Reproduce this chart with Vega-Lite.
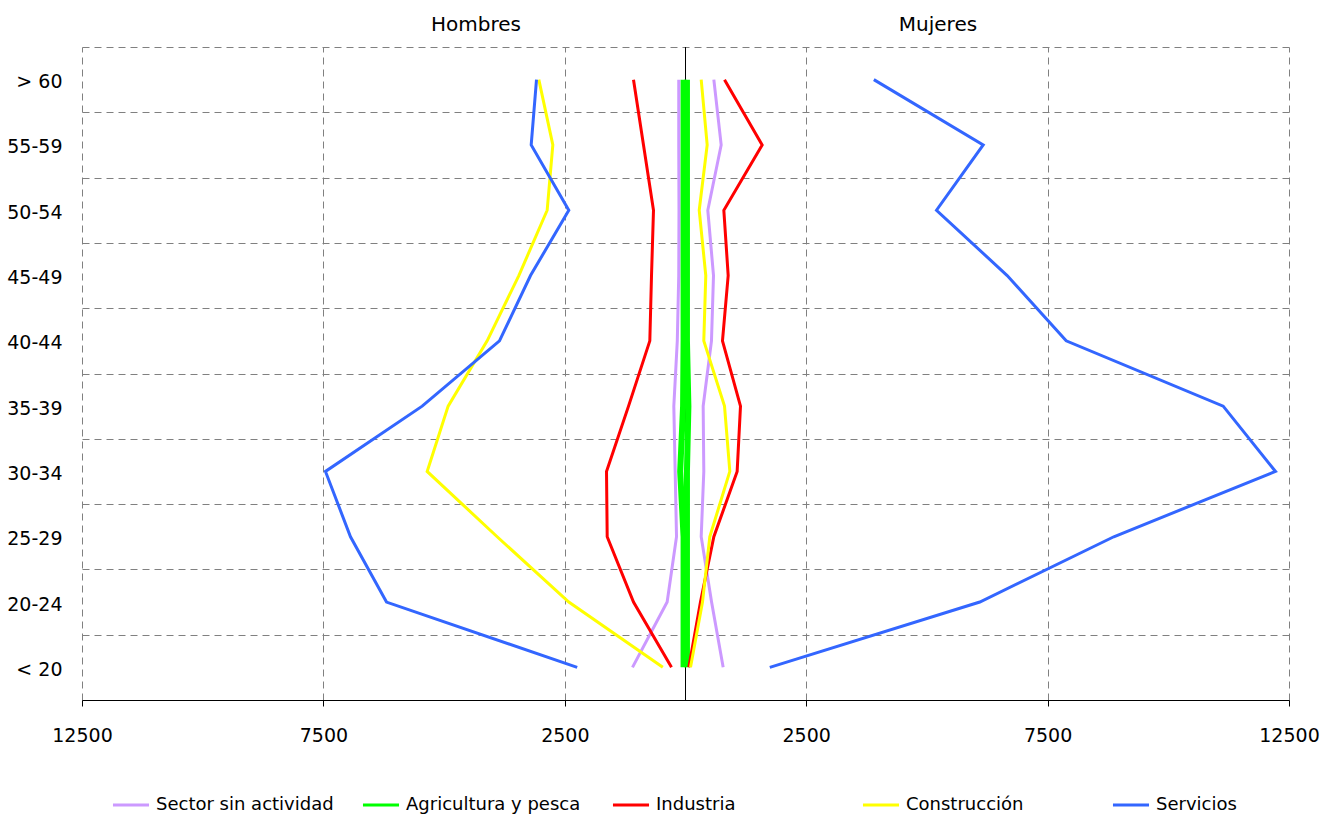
{
  "$schema": "https://vega.github.io/schema/vega-lite/v6.json",
  "width": 1207,
  "height": 653,
  "autosize": {"type": "none"},
  "padding": {"left": 82, "top": 47, "right": 44, "bottom": 114},
  "background": "white",
  "config": {
    "font": "DejaVu Sans",
    "view": {"stroke": null},
    "axis": {"labelColor": "black", "labelFont": "DejaVu Sans"},
    "legend": {"labelFont": "DejaVu Sans", "labelColor": "black"}
  },
  "datasets": {
    "pts": [
      {"a": "> 60", "k": 1, "s": "Sector sin actividad", "g": "Hombres", "v": -140},
      {"a": "55-59", "k": 2, "s": "Sector sin actividad", "g": "Hombres", "v": -140},
      {"a": "50-54", "k": 3, "s": "Sector sin actividad", "g": "Hombres", "v": -135},
      {"a": "45-49", "k": 4, "s": "Sector sin actividad", "g": "Hombres", "v": -140},
      {"a": "40-44", "k": 5, "s": "Sector sin actividad", "g": "Hombres", "v": -170},
      {"a": "35-39", "k": 6, "s": "Sector sin actividad", "g": "Hombres", "v": -242},
      {"a": "30-34", "k": 7, "s": "Sector sin actividad", "g": "Hombres", "v": -214},
      {"a": "25-29", "k": 8, "s": "Sector sin actividad", "g": "Hombres", "v": -186},
      {"a": "20-24", "k": 9, "s": "Sector sin actividad", "g": "Hombres", "v": -380},
      {"a": "< 20", "k": 10, "s": "Sector sin actividad", "g": "Hombres", "v": -1098},
      {"a": "> 60", "k": 1, "s": "Sector sin actividad", "g": "Mujeres", "v": 587},
      {"a": "55-59", "k": 2, "s": "Sector sin actividad", "g": "Mujeres", "v": 739},
      {"a": "50-54", "k": 3, "s": "Sector sin actividad", "g": "Mujeres", "v": 462},
      {"a": "45-49", "k": 4, "s": "Sector sin actividad", "g": "Mujeres", "v": 580},
      {"a": "40-44", "k": 5, "s": "Sector sin actividad", "g": "Mujeres", "v": 538},
      {"a": "35-39", "k": 6, "s": "Sector sin actividad", "g": "Mujeres", "v": 366},
      {"a": "30-34", "k": 7, "s": "Sector sin actividad", "g": "Mujeres", "v": 379},
      {"a": "25-29", "k": 8, "s": "Sector sin actividad", "g": "Mujeres", "v": 325},
      {"a": "20-24", "k": 9, "s": "Sector sin actividad", "g": "Mujeres", "v": 540},
      {"a": "< 20", "k": 10, "s": "Sector sin actividad", "g": "Mujeres", "v": 780},
      {"a": "> 60", "k": 1, "s": "Agricultura y pesca", "g": "Hombres", "v": -40},
      {"a": "55-59", "k": 2, "s": "Agricultura y pesca", "g": "Hombres", "v": -40},
      {"a": "50-54", "k": 3, "s": "Agricultura y pesca", "g": "Hombres", "v": -40},
      {"a": "45-49", "k": 4, "s": "Agricultura y pesca", "g": "Hombres", "v": -40},
      {"a": "40-44", "k": 5, "s": "Agricultura y pesca", "g": "Hombres", "v": -40},
      {"a": "35-39", "k": 6, "s": "Agricultura y pesca", "g": "Hombres", "v": -50},
      {"a": "30-34", "k": 7, "s": "Agricultura y pesca", "g": "Hombres", "v": -110},
      {"a": "25-29", "k": 8, "s": "Agricultura y pesca", "g": "Hombres", "v": -40},
      {"a": "20-24", "k": 9, "s": "Agricultura y pesca", "g": "Hombres", "v": -40},
      {"a": "< 20", "k": 10, "s": "Agricultura y pesca", "g": "Hombres", "v": -40},
      {"a": "> 60", "k": 1, "s": "Agricultura y pesca", "g": "Mujeres", "v": 30},
      {"a": "55-59", "k": 2, "s": "Agricultura y pesca", "g": "Mujeres", "v": 30},
      {"a": "50-54", "k": 3, "s": "Agricultura y pesca", "g": "Mujeres", "v": 30},
      {"a": "45-49", "k": 4, "s": "Agricultura y pesca", "g": "Mujeres", "v": 30},
      {"a": "40-44", "k": 5, "s": "Agricultura y pesca", "g": "Mujeres", "v": 30},
      {"a": "35-39", "k": 6, "s": "Agricultura y pesca", "g": "Mujeres", "v": 60},
      {"a": "30-34", "k": 7, "s": "Agricultura y pesca", "g": "Mujeres", "v": 30},
      {"a": "25-29", "k": 8, "s": "Agricultura y pesca", "g": "Mujeres", "v": 30},
      {"a": "20-24", "k": 9, "s": "Agricultura y pesca", "g": "Mujeres", "v": 30},
      {"a": "< 20", "k": 10, "s": "Agricultura y pesca", "g": "Mujeres", "v": 30},
      {"a": "> 60", "k": 1, "s": "Industria", "g": "Hombres", "v": -1077},
      {"a": "55-59", "k": 2, "s": "Industria", "g": "Hombres", "v": -870},
      {"a": "50-54", "k": 3, "s": "Industria", "g": "Hombres", "v": -663},
      {"a": "45-49", "k": 4, "s": "Industria", "g": "Hombres", "v": -704},
      {"a": "40-44", "k": 5, "s": "Industria", "g": "Hombres", "v": -739},
      {"a": "35-39", "k": 6, "s": "Industria", "g": "Hombres", "v": -1180},
      {"a": "30-34", "k": 7, "s": "Industria", "g": "Hombres", "v": -1636},
      {"a": "25-29", "k": 8, "s": "Industria", "g": "Hombres", "v": -1622},
      {"a": "20-24", "k": 9, "s": "Industria", "g": "Hombres", "v": -1077},
      {"a": "< 20", "k": 10, "s": "Industria", "g": "Hombres", "v": -290},
      {"a": "> 60", "k": 1, "s": "Industria", "g": "Mujeres", "v": 808},
      {"a": "55-59", "k": 2, "s": "Industria", "g": "Mujeres", "v": 1588},
      {"a": "50-54", "k": 3, "s": "Industria", "g": "Mujeres", "v": 794},
      {"a": "45-49", "k": 4, "s": "Industria", "g": "Mujeres", "v": 884},
      {"a": "40-44", "k": 5, "s": "Industria", "g": "Mujeres", "v": 766},
      {"a": "35-39", "k": 6, "s": "Industria", "g": "Mujeres", "v": 1139},
      {"a": "30-34", "k": 7, "s": "Industria", "g": "Mujeres", "v": 1070},
      {"a": "25-29", "k": 8, "s": "Industria", "g": "Mujeres", "v": 587},
      {"a": "20-24", "k": 9, "s": "Industria", "g": "Mujeres", "v": 310},
      {"a": "< 20", "k": 10, "s": "Industria", "g": "Mujeres", "v": 69},
      {"a": "> 60", "k": 1, "s": "Construcción", "g": "Hombres", "v": -3038},
      {"a": "55-59", "k": 2, "s": "Construcción", "g": "Hombres", "v": -2748},
      {"a": "50-54", "k": 3, "s": "Construcción", "g": "Hombres", "v": -2865},
      {"a": "45-49", "k": 4, "s": "Construcción", "g": "Hombres", "v": -3452},
      {"a": "40-44", "k": 5, "s": "Construcción", "g": "Hombres", "v": -4108},
      {"a": "35-39", "k": 6, "s": "Construcción", "g": "Hombres", "v": -4916},
      {"a": "30-34", "k": 7, "s": "Construcción", "g": "Hombres", "v": -5351},
      {"a": "25-29", "k": 8, "s": "Construcción", "g": "Hombres", "v": -3901},
      {"a": "20-24", "k": 9, "s": "Construcción", "g": "Hombres", "v": -2417},
      {"a": "< 20", "k": 10, "s": "Construcción", "g": "Hombres", "v": -470},
      {"a": "> 60", "k": 1, "s": "Construcción", "g": "Mujeres", "v": 325},
      {"a": "55-59", "k": 2, "s": "Construcción", "g": "Mujeres", "v": 449},
      {"a": "50-54", "k": 3, "s": "Construcción", "g": "Mujeres", "v": 284},
      {"a": "45-49", "k": 4, "s": "Construcción", "g": "Mujeres", "v": 420},
      {"a": "40-44", "k": 5, "s": "Construcción", "g": "Mujeres", "v": 379},
      {"a": "35-39", "k": 6, "s": "Construcción", "g": "Mujeres", "v": 808},
      {"a": "30-34", "k": 7, "s": "Construcción", "g": "Mujeres", "v": 918},
      {"a": "25-29", "k": 8, "s": "Construcción", "g": "Mujeres", "v": 503},
      {"a": "20-24", "k": 9, "s": "Construcción", "g": "Mujeres", "v": 352},
      {"a": "< 20", "k": 10, "s": "Construcción", "g": "Mujeres", "v": 104},
      {"a": "> 60", "k": 1, "s": "Servicios", "g": "Hombres", "v": -3086},
      {"a": "55-59", "k": 2, "s": "Servicios", "g": "Hombres", "v": -3196},
      {"a": "50-54", "k": 3, "s": "Servicios", "g": "Hombres", "v": -2417},
      {"a": "45-49", "k": 4, "s": "Servicios", "g": "Hombres", "v": -3210},
      {"a": "40-44", "k": 5, "s": "Servicios", "g": "Hombres", "v": -3853},
      {"a": "35-39", "k": 6, "s": "Servicios", "g": "Hombres", "v": -5454},
      {"a": "30-34", "k": 7, "s": "Servicios", "g": "Hombres", "v": -7457},
      {"a": "25-29", "k": 8, "s": "Servicios", "g": "Hombres", "v": -6939},
      {"a": "20-24", "k": 9, "s": "Servicios", "g": "Hombres", "v": -6193},
      {"a": "< 20", "k": 10, "s": "Servicios", "g": "Hombres", "v": -2243},
      {"a": "> 60", "k": 1, "s": "Servicios", "g": "Mujeres", "v": 3901},
      {"a": "55-59", "k": 2, "s": "Servicios", "g": "Mujeres", "v": 6166},
      {"a": "50-54", "k": 3, "s": "Servicios", "g": "Mujeres", "v": 5199},
      {"a": "45-49", "k": 4, "s": "Servicios", "g": "Mujeres", "v": 6663},
      {"a": "40-44", "k": 5, "s": "Servicios", "g": "Mujeres", "v": 7885},
      {"a": "35-39", "k": 6, "s": "Servicios", "g": "Mujeres", "v": 11137},
      {"a": "30-34", "k": 7, "s": "Servicios", "g": "Mujeres", "v": 12220},
      {"a": "25-29", "k": 8, "s": "Servicios", "g": "Mujeres", "v": 8871},
      {"a": "20-24", "k": 9, "s": "Servicios", "g": "Mujeres", "v": 6096},
      {"a": "< 20", "k": 10, "s": "Servicios", "g": "Mujeres", "v": 1746}
    ],
    "center": [{"c": 0}]
  },
  "layer": [
    {
      "data": {"name": "center"},
      "mark": {"type": "rule", "color": "black", "strokeWidth": 1},
      "encoding": {
        "x": {
          "field": "c",
          "type": "quantitative",
          "scale": {"domain": [-12500, 12500], "nice": false, "zero": false},
          "axis": {
            "orient": "top",
            "title": null,
            "values": [-4349, 5219],
            "labelExpr": "datum.value < 0 ? 'Hombres' : 'Mujeres'",
            "domain": false,
            "ticks": false,
            "tickSize": 0,
            "grid": false,
            "labelPadding": 13,
            "labelFontSize": 20,
            "labelFont": "DejaVu Sans",
            "labelColor": "black",
            "labelOverlap": false
          }
        }
      }
    },
    {
      "data": {"name": "pts"},
      "mark": {"type": "line"},
      "encoding": {
        "x": {
          "field": "v",
          "type": "quantitative",
          "scale": {"domain": [-12500, 12500], "nice": false, "zero": false},
          "axis": {
            "orient": "bottom",
            "title": null,
            "values": [-12500, -7500, -2500, 2500, 7500, 12500],
            "labelExpr": "format(abs(datum.value), 'd')",
            "domain": true,
            "domainColor": "black",
            "domainWidth": 1,
            "ticks": true,
            "tickColor": "black",
            "tickSize": 6,
            "grid": true,
            "gridColor": "#808080",
            "gridDash": [7, 5],
            "gridWidth": 1,
            "labelPadding": 20,
            "labelFontSize": 19,
            "labelOverlap": false,
            "labelFlush": false
          }
        },
        "y": {
          "field": "a",
          "type": "nominal",
          "bandPosition": 0.5,
          "sort": ["> 60", "55-59", "50-54", "45-49", "40-44", "35-39", "30-34", "25-29", "20-24", "< 20"],
          "scale": {"type": "band", "paddingInner": 0, "paddingOuter": 0},
          "axis": {
            "title": null,
            "domain": false,
            "ticks": false,
            "tickSize": 0,
            "tickBand": "extent",
            "grid": true,
            "gridColor": "#808080",
            "gridDash": [7, 5],
            "gridWidth": 1,
            "labelPadding": 20,
            "labelOffset": 2,
            "labelFontSize": 19
          }
        },
        "color": {
          "field": "s",
          "type": "nominal",
          "scale": {
            "domain": ["Sector sin actividad", "Agricultura y pesca", "Industria", "Construcción", "Servicios"],
            "range": ["#CC99FF", "#00FF00", "#FF0000", "#FFFF00", "#3366FF"]
          },
          "legend": {
            "title": null,
            "orient": "none",
            "legendX": 29,
            "legendY": 738,
            "direction": "horizontal",
            "columns": 5,
            "gridAlign": "all",
            "columnPadding": 22,
            "symbolType": "stroke",
            "symbolSize": 1300,
            "symbolStrokeWidth": 3,
            "labelFontSize": 18,
            "labelOffset": 5,
            "labelLimit": 400
          }
        },
        "detail": {"field": "g", "type": "nominal"},
        "order": {"field": "k", "type": "quantitative"},
        "strokeWidth": {
          "condition": {"test": "datum.s === 'Agricultura y pesca'", "value": 6},
          "value": 3
        }
      }
    }
  ],
  "resolve": {"axis": {"x": "independent"}}
}
